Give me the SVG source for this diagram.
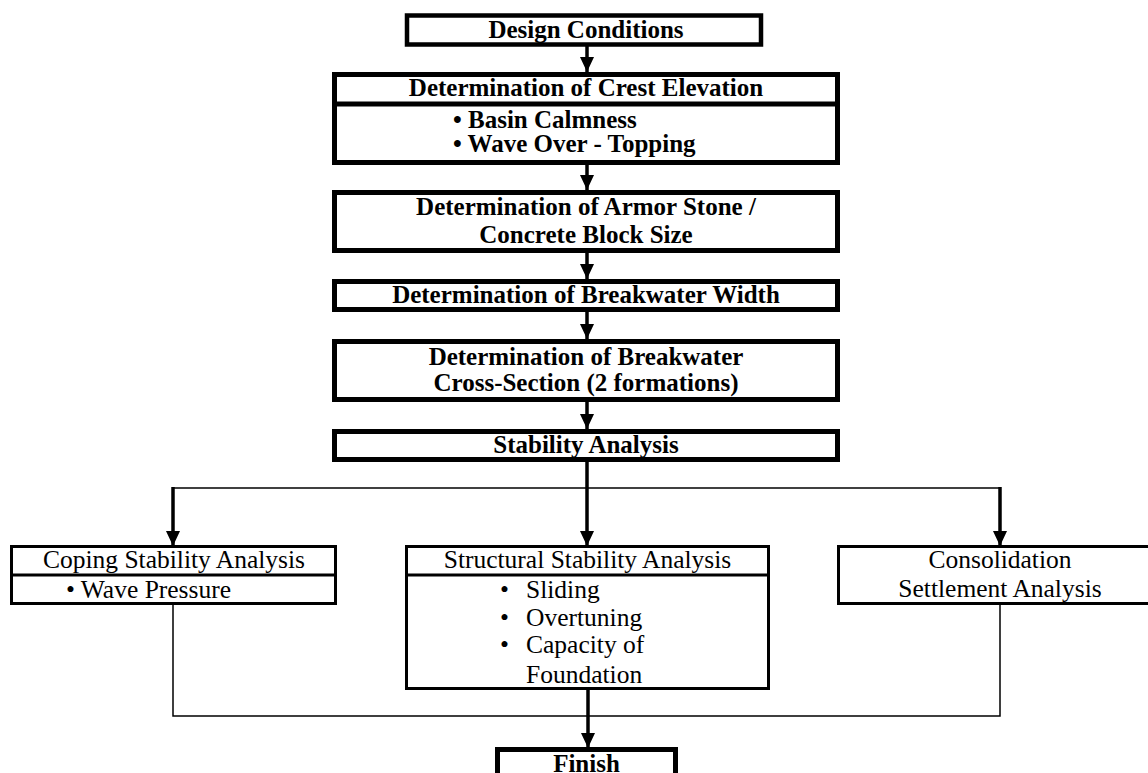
<svg xmlns="http://www.w3.org/2000/svg" width="1148" height="773" viewBox="0 0 1148 773">
<defs>
<marker id="ah" markerUnits="userSpaceOnUse" markerWidth="15" markerHeight="14" refX="15" refY="7" orient="auto" viewBox="0 0 15 14">
<path d="M0,0 L15,7 L0,14 Z" fill="#000"/>
</marker>
<style>
.bx{fill:#fff;stroke:#000;stroke-width:5}
.sx{fill:#fff;stroke:#000;stroke-width:3}
.dv{stroke:#000;stroke-width:5}
.dv3{stroke:#000;stroke-width:3}
.b{font-family:"Liberation Serif","Times New Roman",serif;font-weight:bold;font-size:25px;fill:#000}
.r{font-family:"Liberation Serif","Times New Roman",serif;font-size:25.5px;fill:#000}
.c{text-anchor:middle}
.ar{fill:none;stroke:#000;stroke-width:3.5;marker-end:url(#ah)}
.ln{fill:none;stroke:#000;stroke-width:1.5}
</style>
</defs>
<rect width="1148" height="773" fill="#fff"/>
<g id="connectors">
<line class="ar" x1="587" y1="46" x2="587" y2="72"/>
<line class="ar" x1="587" y1="165" x2="587" y2="190"/>
<line class="ar" x1="587" y1="253" x2="587" y2="279"/>
<line class="ar" x1="587" y1="312" x2="587" y2="339"/>
<line class="ar" x1="587" y1="402" x2="587" y2="429"/>
<line class="ar" x1="587" y1="462" x2="587" y2="546"/>
<line class="ln" x1="173" y1="488" x2="1000" y2="488"/>
<line class="ar" x1="173" y1="487" x2="173" y2="546"/>
<line class="ar" x1="1000" y1="487" x2="1000" y2="546"/>
<polyline class="ln" points="173,605 173,716 1000,716 1000,605"/>
<line class="ar" x1="588" y1="690" x2="588" y2="748"/>
</g>
<g id="design-conditions">
<rect x="407" y="15.5" width="354" height="29" class="bx" style="stroke-width:4.5"/>
<text x="586" y="38" class="b c">Design Conditions</text>
</g>
<g id="crest-elevation">
<rect x="334.5" y="74.5" width="503" height="88" class="bx"/>
<line x1="334.5" y1="104" x2="837.5" y2="104" class="dv"/>
<text x="586" y="96" class="b c">Determination of Crest Elevation</text>
<text x="453" y="128" class="b">• Basin Calmness</text>
<text x="453" y="152" class="b">• Wave Over - Topping</text>
</g>
<g id="armor-stone">
<rect x="334.5" y="192.5" width="503" height="58" class="bx"/>
<text x="586" y="215" class="b c">Determination of Armor Stone /</text>
<text x="586" y="243" class="b c">Concrete Block Size</text>
</g>
<g id="breakwater-width">
<rect x="334.5" y="281.5" width="503" height="28" class="bx"/>
<text x="586" y="303" class="b c">Determination of Breakwater Width</text>
</g>
<g id="cross-section">
<rect x="334.5" y="341.5" width="503" height="58" class="bx"/>
<text x="586" y="365" class="b c">Determination of Breakwater</text>
<text x="586" y="391" class="b c">Cross-Section (2 formations)</text>
</g>
<g id="stability-analysis">
<rect x="334.5" y="431.5" width="503" height="28" class="bx"/>
<text x="586" y="453" class="b c">Stability Analysis</text>
</g>
<g id="coping-stability">
<rect x="11.5" y="546.5" width="324" height="57" class="sx"/>
<line x1="11.5" y1="575" x2="335.5" y2="575" class="dv3"/>
<text x="174" y="568" class="r c">Coping Stability Analysis</text>
<text x="66" y="598" class="r">• Wave Pressure</text>
</g>
<g id="structural-stability">
<rect x="406.5" y="546.5" width="362" height="142" class="sx"/>
<line x1="406.5" y1="575" x2="768.5" y2="575" class="dv3"/>
<text x="587.5" y="568" class="r c">Structural Stability Analysis</text>
<text x="500" y="598" class="r">•</text>
<text x="526" y="598" class="r">Sliding</text>
<text x="500" y="626" class="r">•</text>
<text x="526" y="626" class="r">Overtuning</text>
<text x="500" y="653" class="r">•</text>
<text x="526" y="653" class="r">Capacity of</text>
<text x="526" y="683" class="r">Foundation</text>
</g>
<g id="consolidation-settlement">
<rect x="838.5" y="546.5" width="323" height="57" class="sx"/>
<text x="1000" y="568" class="r c">Consolidation</text>
<text x="1000" y="597" class="r c">Settlement Analysis</text>
</g>
<g id="finish">
<rect x="497.5" y="749.5" width="178" height="50" class="bx"/>
<text x="586.5" y="772" class="b c">Finish</text>
</g>
</svg>
